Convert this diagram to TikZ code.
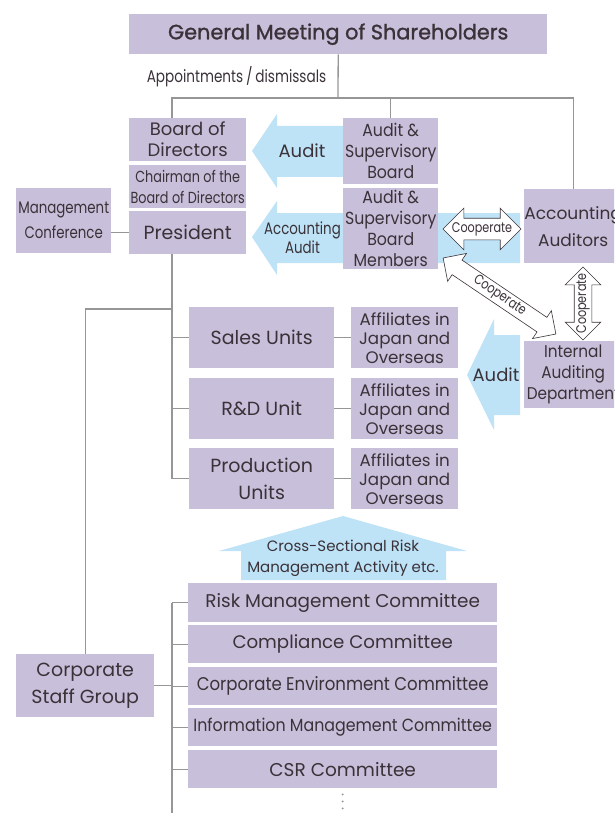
\documentclass[tikz,border=0pt]{standalone}
\usepackage{fontspec}
\setmainfont{Poppins}
\newfontfamily\condfont[FakeStretch=0.8]{Poppins}
\newfontfamily\slimfont[FakeStretch=0.9]{Poppins}
\newfontfamily\headfont[FakeBold=1.2]{Poppins}
\usetikzlibrary{shapes.arrows,calc}
\definecolor{boxpurple}{RGB}{200,191,218}
\definecolor{skyblue}{RGB}{190,226,246}
\definecolor{ink}{RGB}{58,50,56}
\definecolor{linegray}{RGB}{150,150,150}

\begin{document}
\begin{tikzpicture}[x=1pt,y=-1pt,
  box/.style={fill=boxpurple,text=ink,inner sep=0pt,align=center,anchor=north west,font=\fontsize{19}{21}\selectfont},
  link/.style={draw=linegray,line width=1.3pt},
  band/.style={fill=skyblue},
  tag/.style={text=ink,align=center,inner sep=0pt},
  coop/.style={double arrow,draw=ink,fill=white,line width=0.6pt,inner xsep=0pt,double arrow tip angle=90},
  cooptext/.style={text=ink,inner sep=0pt,font=\condfont\fontsize{14}{14}\selectfont}]
  \useasboundingbox (0,0) rectangle (614,813);
  \clip (0,0) rectangle (614,813);

  % blue audit bands
  \fill[band] (343,126) -- (277,126) -- (277,114) -- (252,151) -- (277,188) -- (277,177) -- (343,177) -- cycle;
  \fill[band] (520,213) -- (277,213) -- (277,201) -- (252,237) -- (277,275) -- (277,263) -- (520,263) -- cycle;
  \fill[band] (520,335) -- (494,335) -- (494,319) -- (467,375) -- (494,430) -- (494,415) -- (520,415) -- cycle;
  \fill[band] (241,580) -- (241,551) -- (219,551) -- (343,516) -- (467,551) -- (446,551) -- (446,580) -- cycle;

  % top level
  \node[box,minimum width=418,minimum height=40,font=\headfont\fontsize{20.8}{22}\selectfont] (gms) at (129,14) {General Meeting of Shareholders};
  \node[box,minimum width=117,minimum height=43,font=\fontsize{18}{21}\selectfont] (bod) at (129,118) {Board of\\Directors};
  \node[box,minimum width=117,minimum height=43,font=\condfont\fontsize{16}{21}\selectfont] (chair) at (129,165) {Chairman of the\\Board of Directors};
  \node[box,minimum width=117,minimum height=43] (pres) at (129,211) {President};
  \node[box,minimum width=95,minimum height=65,font=\condfont\fontsize{16.7}{25}\selectfont] (mc) at (16,188) {Management\\Conference};
  \node[box,minimum width=95,minimum height=66,font=\slimfont\fontsize{17.5}{21}\selectfont] (asb) at (343,118) {Audit \&\\Supervisory\\Board};
  \node[box,minimum width=95,minimum height=81,font=\slimfont\fontsize{17.5}{21}\selectfont] (asbm) at (343,188) {Audit \&\\Supervisory\\Board\\Members};
  \node[box,minimum width=98,minimum height=74,font=\fontsize{17}{27}\selectfont] (aa) at (524,189) {Accounting\\Auditors};
  \node[box,minimum width=98,minimum height=67,font=\slimfont\fontsize{17}{21}\selectfont] (iad) at (524,341) {Internal\\Auditing\\Department};

  % business units and affiliates
  \node[box,minimum width=145,minimum height=61] (sales) at (189,307) {Sales Units};
  \node[box,minimum width=145,minimum height=61] (rnd) at (189,378) {R\&D Unit};
  \node[box,minimum width=145,minimum height=61,font=\fontsize{19}{27}\selectfont] (prod) at (189,448) {Production\\Units};
  \node[box,minimum width=107,minimum height=61,font=\fontsize{16.7}{19}\selectfont] (aff1) at (351,307) {Affiliates in\\Japan and\\Overseas};
  \node[box,minimum width=107,minimum height=61,font=\fontsize{16.7}{19}\selectfont] (aff2) at (351,378) {Affiliates in\\Japan and\\Overseas};
  \node[box,minimum width=107,minimum height=61,font=\fontsize{16.7}{19}\selectfont] (aff3) at (351,448) {Affiliates in\\Japan and\\Overseas};

  % staff group and committees
  \node[box,minimum width=138,minimum height=63,font=\fontsize{19}{27}\selectfont] (csg) at (16,654) {Corporate\\Staff Group};
  \node[box,minimum width=309,minimum height=39,font=\fontsize{18.4}{21}\selectfont] (risk) at (188,583) {Risk Management Committee};
  \node[box,minimum width=309,minimum height=38,font=\fontsize{18.2}{21}\selectfont] (comp) at (188,625) {Compliance Committee};
  \node[box,minimum width=309,minimum height=38,font=\slimfont\fontsize{18.4}{21}\selectfont] (env) at (188,667) {Corporate Environment Committee};
  \node[box,minimum width=309,minimum height=38,font=\slimfont\fontsize{17.6}{21}\selectfont] (info) at (188,708) {Information Management Committee};
  \node[box,minimum width=309,minimum height=38,font=\fontsize{18.5}{21}\selectfont] (csr) at (188,750) {CSR Committee};

  % labels
  \node[tag,font=\condfont\fontsize{17}{17}\selectfont] (appoint) at (236.5,77) {Appointments\,/\,dismissals};
  \node[tag,font=\fontsize{18}{18}\selectfont] (auditA) at (302,151) {Audit};
  \node[tag,font=\condfont\fontsize{16.7}{19}\selectfont] (auditB) at (302.5,238) {Accounting\\Audit};
  \node[tag,font=\fontsize{18}{18}\selectfont] (auditC) at (496,375) {Audit};
  \node[tag,font=\fontsize{15}{21}\selectfont] (cross) at (343,558) {Cross-Sectional Risk\\Management Activity etc.};

  % cooperate arrows
  \node[coop,minimum height=78,minimum width=41,inner ysep=10.5,double arrow head extend=10] (coopH) at (482,229) {};
  \node[coop,minimum height=136,minimum width=33,inner ysep=8.5,double arrow head extend=8,rotate=-34] (coopD) at (499.5,296) {};
  \node[coop,minimum height=73,minimum width=35,inner ysep=8.5,double arrow head extend=9,rotate=90] (coopV) at (583,303.5) {};
  \node[cooptext] at (coopH) {Cooperate};
  \node[cooptext,rotate=-34] at (coopD) {Cooperate};
  \node[cooptext,rotate=90] at (coopV) {Cooperate};

  % connecting lines
  \coordinate (spine) at (172,0);
  \coordinate (split) at (338,98);
  \coordinate (staff) at (172,309);
  \coordinate (bottom) at (172,813);
  \draw[link] (gms.south) -- (split);
  \draw[link] (spine |- bod.north) |- (split) -| (aa.north);
  \draw[link] (asb.north) -- (asb.north |- split);
  \draw[link] (mc.east |- pres.west) -- (pres.west);
  \draw[link] (spine |- pres.south) -- (spine |- prod.west);
  \draw[link] (spine |- sales.west) -- (sales.west);
  \draw[link] (spine |- rnd.west) -- (rnd.west);
  \draw[link] (spine |- prod.west) -- (prod.west);
  \draw[link] (sales.east) -- (aff1.west);
  \draw[link] (rnd.east) -- (aff2.west);
  \draw[link] (prod.east) -- (aff3.west);
  \draw[link] (staff) -| (csg.north);
  \draw[link] (spine |- risk.west) -- (bottom);
  \draw[link] (csg.east) -- (spine |- csg.east);
  \draw[link] (spine |- risk.west) -- (risk.west);
  \draw[link] (spine |- comp.west) -- (comp.west);
  \draw[link] (spine |- env.west) -- (env.west);
  \draw[link] (spine |- info.west) -- (info.west);
  \draw[link] (spine |- csr.west) -- (csr.west);
  \draw[linegray,line width=2.2pt,line cap=round,dash pattern=on 0pt off 7pt] ($(csr.south)+(0,6)$) -- (csr.south |- bottom);
\end{tikzpicture}
\end{document}
